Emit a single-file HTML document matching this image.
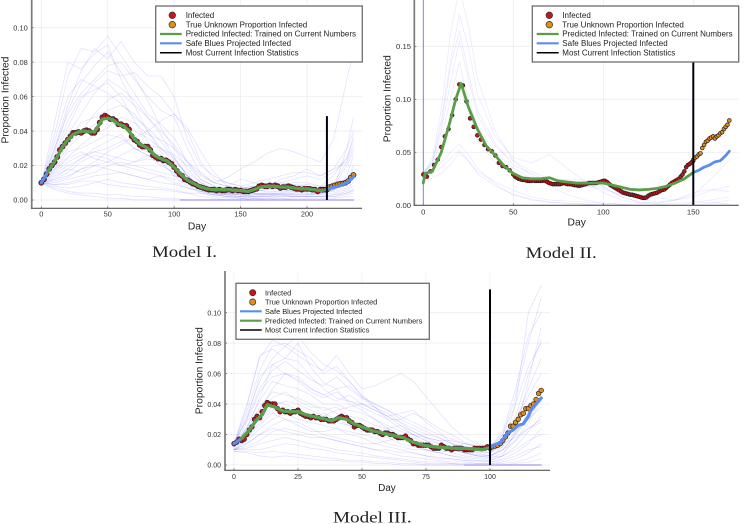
<!DOCTYPE html>
<html lang="en">
<head>
<meta charset="utf-8">
<title>Model projections of proportion infected</title>
<style>
html,body{margin:0;padding:0;background:#fff;}
#figure{display:block;width:746px;height:524px;filter:blur(.35px);}
text{font-family:"Liberation Sans",sans-serif;fill:#1c1c1c;}
.cap{font-family:"Liberation Serif",serif;font-size:16px;fill:#222;}
.tick{font-size:7.6px;fill:#333;}
.axt{font-size:10.3px;fill:#222;}
.leg{font-size:8px;fill:#222;}
.leg3{font-size:7.4px;fill:#222;}
.box{fill:#fff;stroke:#6e6e6e;stroke-width:1.3;}
</style>
</head>
<body>
<svg id="figure" width="746" height="524" viewBox="0 0 746 524" xmlns="http://www.w3.org/2000/svg">
<defs>
<clipPath id="clip1"><rect x="31" y="0" width="331" height="208.5"/></clipPath>
<clipPath id="clip2"><rect x="414" y="0" width="325" height="205.5"/></clipPath>
<clipPath id="clip3"><rect x="225" y="271" width="325" height="199.5"/></clipPath>
</defs>

<g>
<g id="plot1"></g>
<text class="axt" x="197" y="229.3" text-anchor="middle">Day</text>
<text class="axt" transform="translate(8.7,100) rotate(-90)" text-anchor="middle">Proportion Infected</text>
<g>
<rect class="box" x="155.7" y="6" width="206.6" height="56"/>
<circle cx="172.3" cy="15.3" r="3.3" fill="#c4161c" stroke="#333" stroke-width=".7"/>
<circle cx="172.3" cy="24.7" r="3.3" fill="#e08e1a" stroke="#333" stroke-width=".7"/>
<line x1="160" x2="181.7" y1="34" y2="34" stroke="#5a9e48" stroke-width="2.2"/>
<line x1="160" x2="181.7" y1="43.3" y2="43.3" stroke="#5b8def" stroke-width="2.2"/>
<line x1="160" x2="181.7" y1="52.7" y2="52.7" stroke="#000" stroke-width="1.5"/>
<text class="leg" x="185.7" y="18">Infected</text>
<text class="leg" x="185.7" y="27.4">True Unknown Proportion Infected</text>
<text class="leg" x="185.7" y="36.7">Predicted Infected: Trained on Current Numbers</text>
<text class="leg" x="185.7" y="46">Safe Blues Projected Infected</text>
<text class="leg" x="185.7" y="55.4">Most Current Infection Statistics</text>
</g>
<text class="cap" x="152" y="257" textLength="65" lengthAdjust="spacingAndGlyphs">Model I.</text>
</g>

<g>
<g id="plot2"></g>
<text class="axt" x="576.7" y="225.6" text-anchor="middle">Day</text>
<text class="axt" transform="translate(390.6,98.7) rotate(-90)" text-anchor="middle">Proportion Infected</text>
<g>
<rect class="box" x="532.3" y="6" width="206.4" height="56"/>
<circle cx="549.3" cy="15.3" r="3.3" fill="#c4161c" stroke="#333" stroke-width=".7"/>
<circle cx="549.3" cy="24.7" r="3.3" fill="#e08e1a" stroke="#333" stroke-width=".7"/>
<line x1="536.7" x2="558.7" y1="34" y2="34" stroke="#5a9e48" stroke-width="2.2"/>
<line x1="536.7" x2="558.7" y1="43.3" y2="43.3" stroke="#5b8def" stroke-width="2.2"/>
<line x1="536.7" x2="558.7" y1="52.7" y2="52.7" stroke="#000" stroke-width="1.5"/>
<text class="leg" x="562.3" y="18">Infected</text>
<text class="leg" x="562.3" y="27.4">True Unknown Proportion Infected</text>
<text class="leg" x="562.3" y="36.7">Predicted Infected: Trained on Current Numbers</text>
<text class="leg" x="562.3" y="46">Safe Blues Projected Infected</text>
<text class="leg" x="562.3" y="55.4">Most Current Infection Statistics</text>
</g>
<text class="cap" x="525.7" y="258" textLength="71" lengthAdjust="spacingAndGlyphs">Model II.</text>
</g>

<g>
<g id="plot3"></g>
<text class="axt" x="387" y="491" text-anchor="middle" style="font-size:9.8px">Day</text>
<text class="axt" transform="translate(202.7,370.7) rotate(-90)" text-anchor="middle">Proportion Infected</text>
<g>
<rect class="box" x="236" y="283.3" width="193.3" height="56"/>
<circle cx="252.7" cy="292.7" r="3.1" fill="#c4161c" stroke="#333" stroke-width=".7"/>
<circle cx="252.7" cy="302" r="3.1" fill="#e08e1a" stroke="#333" stroke-width=".7"/>
<line x1="240" x2="261.7" y1="311.3" y2="311.3" stroke="#5b8def" stroke-width="2.2"/>
<line x1="240" x2="261.7" y1="320.7" y2="320.7" stroke="#5a9e48" stroke-width="2.2"/>
<line x1="240" x2="261.7" y1="330" y2="330" stroke="#000" stroke-width="1.5"/>
<text class="leg3" x="265" y="295.3">Infected</text>
<text class="leg3" x="265" y="304.6">True Unknown Proportion Infected</text>
<text class="leg3" x="265" y="313.9">Safe Blues Projected Infected</text>
<text class="leg3" x="265" y="323.3">Predicted Infected: Trained on Current Numbers</text>
<text class="leg3" x="265" y="332.6">Most Current Infection Statistics</text>
</g>
<text class="cap" x="333" y="522.5" textLength="78.7" lengthAdjust="spacingAndGlyphs">Model III.</text>
</g>
</svg>

<script>
/* ---------- Model I data (proportions in thousandths) ---------- */
const m1XTicks = [0, 50, 100, 150, 200];
const m1YTicks = [0, 0.02, 0.04, 0.06, 0.08, 0.10];
const m1RunDays = [0,10,20,30,40,50,60,70,80,90,100,110,120,130,140,150,160,170,180,190,200,210,220,230,235];
const m1Runs = [
[10,38,72,88,86,95,84,72,58,42,30,18,10,6,4,3,3,4,4,3,3,3,6,30,40],
[10,45,80,76,85,90,70,55,40,28,18,10,6,4,3,3,2,2,2,2,2,2,3,5,6],
[10,30,55,75,88,82,92,80,72,72,60,35,20,14,10,8,6,5,5,4,4,4,8,20,28],
[10,30,50,62,70,78,80,70,60,52,48,30,15,10,13,18,22,27,30,28,25,22,35,70,86],
[10,25,42,58,68,75,72,74,66,60,50,40,22,12,10,8,10,12,14,16,16,14,18,30,48],
[10,22,38,50,62,70,65,58,48,38,25,14,8,5,4,3,2,2,1,1,1,1,1,2,2],
[10,20,32,40,50,58,62,55,48,40,32,22,14,10,8,7,8,9,10,9,8,7,10,22,38],
[10,22,35,45,48,52,55,50,40,30,22,16,10,7,6,5,5,6,7,8,9,8,14,25,35],
[10,18,25,32,38,42,48,45,38,35,30,22,16,10,8,6,6,8,12,14,18,14,18,22,30],
[10,18,28,30,34,38,36,30,28,26,20,12,6,3,2,2,1,1,1,0,0,0,0,0,0],
[10,16,22,26,28,30,34,36,32,30,26,20,12,8,6,5,4,3,3,2,2,2,3,4,5],
[10,15,20,24,28,26,24,22,24,22,18,14,8,4,2,1,1,0,0,0,0,0,0,0,0],
[10,12,16,22,26,24,20,18,16,14,10,7,5,3,2,1,1,1,0,0,0,0,0,0,0],
[10,14,18,16,20,22,26,30,26,20,16,10,6,4,4,3,3,4,4,6,6,5,8,12,18],
[10,10,12,14,16,20,22,20,18,16,14,12,8,6,4,4,5,6,7,6,5,5,6,10,14],
[10,9,10,12,14,15,16,14,12,14,12,10,8,5,3,2,2,3,3,2,2,2,2,4,6],
[10,8,7,8,10,12,10,9,8,7,6,4,2,1,0,0,0,0,0,0,0,0,0,0,0],
[10,7,5,4,4,3,3,2,2,1,1,0,0,0,0,0,0,0,0,0,0,0,0,0,0],
[10,6,4,3,2,1,1,0,0,0,0,0,0,0,0,0,0,0,0,0,0,0,0,0,0],
[10,12,14,18,22,28,32,36,40,46,50,42,28,16,8,5,4,3,2,2,2,2,2,3,4],
[10,20,30,38,44,46,42,40,36,30,24,14,7,4,3,2,2,2,3,4,6,4,6,10,16],
[10,26,46,60,64,68,60,46,34,22,14,8,4,2,1,1,0,0,0,0,0,0,0,0,0],
[10,13,18,24,30,34,38,30,26,24,20,14,8,5,4,5,6,8,10,12,14,12,16,24,32],
[10,11,13,18,20,18,16,14,12,10,9,7,5,5,6,7,8,7,6,5,4,4,5,7,10],
[10,9,9,11,11,9,8,7,6,6,5,4,4,3,3,4,6,7,9,10,10,8,9,12,20],
[10,17,24,28,24,22,20,22,26,22,15,9,5,3,2,2,3,3,4,3,3,4,6,14,26],
[10,34,60,70,66,62,56,48,42,34,24,14,8,5,8,12,10,8,6,5,5,4,6,10,12],
[10,28,52,68,78,86,74,62,50,44,36,22,12,8,6,5,4,4,3,3,3,3,4,6,8]
];
const m1FloorDays = [105, 235];
const m1FloorValues = [0, 0];
const m1InfectedDays = [0,2,4,6,8,10,12,14,16,18,20,22,24,26,28,30,32,34,36,38,40,42,44,46,48,50,52,54,56,58,60,62,64,66,68,70,72,74,76,78,80,82,84,86,88,90,92,94,96,98,100,102,104,106,108,110,112,114,116,118,120,122,124,126,128,130,132,134,136,138,140,142,144,146,148,150,152,154,156,158,160,162,164,166,168,170,172,174,176,178,180,182,184,186,188,190,192,194,196,198,200,202,204,206,208,210,212,214];
const m1Infected = [10,12,15,18,20,22,25,29,31,33,35,37,39,39,39.5,39,40,40.5,40,39,39,41,45,48,49,48,47,47,46,44,44,43,43,41,37,35,34,32,31,31,31,29,26,25,24,24,23,23,22,21,19,17,15,14,12,11.5,10.5,9.5,9,8,7.5,7,6.5,6,6,6,5.5,6,5.5,5.5,6,6,5.5,6,5.5,5.5,5,5,5,5.5,6,6.5,8,8.5,8,8,8.5,8,8.5,8,7,7.5,7.5,8,7.5,7,6.5,6.5,6,6.5,6.5,6.5,6,6,5,6,6,6];
const m1TrueDays = [215,217,219,221,223,225,227,229,231,233,235];
const m1True = [6,7.5,8,8.5,9,9.5,9.5,10,11,13,14.5];
const m1PredDays = [5,8,12,16,20,24,28,32,36,40,43,46,50,54,58,62,66,70,74,78,82,85,90,95,100,105,110,115,120,125,130,140,150,156,160,165,170,175,180,185,190,195,200,205,210,215];
const m1Pred = [16.5,20,25,31,35,38,39.5,40,39.5,39.5,43,47,47.5,46.5,44,43,40,35.5,32.5,31,29,26,24,22.5,19,15,11.5,9.5,7.5,6.5,6,6,5.5,5,6,7.5,8,8,7.5,7.5,7,6.5,6.5,6,5.5,6];
const m1BlueDays = [0,5,8,12,16,20,24,28,32,36,40,43,46,50,54,58,62,66,70,74,78,82,85,90,95,100,105,110,115,120,125,130,140,150,156,160,165,170,175,180,185,190,195,200,205,210,215,218,221,224,227,230,233,235];
const m1Blue = [10,16.5,20,25,31,35,38,39.5,40,39.5,39.5,43,47,47.5,46.5,44,43,40,35.5,32.5,31,29,26,24,22.5,19,15,11.5,9.5,7.5,6.5,6,6,5.5,5,6,7.5,8,8,7.5,7.5,7,6.5,6.5,6,5.5,6,7,7.5,8,9,10,12,13.5];
const m1CurrentDay = [215];
const m1CurrentTop = [0.0487];

/* ---------- Model II data ---------- */
const m2XTicks = [0, 50, 100, 150];
const m2YTicks = [0, 0.05, 0.10, 0.15];
const m2RunDays = [0,5,10,15,20,25,30,40,50,60,70,80,90,100,110,120,130,140,150,160,170];
const m2Runs = [
[30,45,90,160,205,170,120,70,42,28,18,10,5,2,1,0,0,0,0,0,0],
[30,42,80,135,180,150,105,65,45,40,48,35,22,12,5,2,1,0,0,2,5],
[30,40,75,130,165,125,90,58,38,30,22,20,22,18,8,3,2,2,3,5,8],
[30,40,70,115,155,120,85,55,42,32,25,24,24,20,15,10,7,5,8,14,18],
[30,38,62,100,135,100,75,50,35,26,25,20,18,17,8,3,2,5,10,25,43],
[30,32,40,50,58,48,35,20,10,6,3,2,1,0,0,0,0,0,0,0,0],
[25,30,36,44,52,42,30,18,10,5,3,2,1,1,0,0,0,0,0,0,0],
[30,34,50,75,110,90,62,40,30,24,20,20,18,15,10,6,3,5,12,15,13],
[22,26,30,38,50,42,32,22,14,8,5,4,3,2,1,0,0,0,2,3,1]
];
const m2AxisSpikeDays = [0, 0];
const m2AxisSpikeValues = [0, 194];
const m2InfectedDays = [0,2,4,6,8,10,12,14,16,18,20,22,24,26,28,30,32,34,36,38,40,42,44,46,48,50,51,52,53,54,55,56,57,58,59,60,61,62,63,64,65,66,67,68,69,70,71,72,73,74,75,76,77,78,79,80,81,82,83,84,85,86,87,88,89,90,91,92,93,94,95,96,97,98,99,100,101,102,103,104,105,106,107,108,109,110,111,112,113,114,115,116,117,118,119,120,121,122,123,124,125,126,127,128,129,130,131,132,133,134,135,136,137,138,139,140,141,142,143,144,145,146,147,148,149,150];
const m2Infected = [29,27,32,38,43,55,65,72,85,100,114,113,98,82,74,66,62,57,53,51,47,40,37,36,33,29,27,26,25,24.5,24,24,23.5,23,23,23,23.5,23,23,23,23,23,23.5,23,22,21,20.5,20,20,20,20,20,20.5,21,20.5,20,20,20,19.5,19,19,18.5,18.5,19,19.5,20,20.5,21,21,21,21,21,21.5,22,22.5,23,23,22,20.5,19,18,17,16,15,14,13,12,11.5,11,10.5,10,10,9.5,9,8.5,8,7.5,7,7,7.5,9,10,10.5,11,11.5,12,13,14,14.5,15,16.5,18,19.5,21,22,23,24,25,27,29,32,36,38,39,40.5,42];
const m2TrueDays = [150,151,152,153,154,155,156,157,158,159,160,161,162,163,164,165,166,167,168,169,170];
const m2True = [43,45,46,48,49,54,57,60,61,63,64,65,63,65,66,68,69,72,74,76,80];
const m2PredDays = [0,1,5,10,15,18,21,25,30,35,40,45,50,55,60,65,70,75,80,85,90,95,100,105,110,115,120,125,130,135,140,145,150];
const m2Pred = [21,30,32,50,80,100,115,93,72,56,47,37,30,26,25,25,26,23,22,21,21,21,21,19,17,15,14.5,15,16,18,21,25,31];
const m2BlueDays = [150,153,156,159,162,165,168,170];
const m2Blue = [31,33,36,38,41,42,47,51];
const m2CurrentDay = [150];
const m2CurrentTop = [0.15];

/* ---------- Model III data ---------- */
const m3XTicks = [0, 25, 50, 75, 100];
const m3YTicks = [0, 0.02, 0.04, 0.06, 0.08, 0.10];
const m3RunDays = [0,5,10,15,20,25,30,35,40,45,50,55,60,65,70,75,80,85,90,95,100,105,110,115,120];
const m3Runs = [
[14,40,70,82,78,85,74,66,62,55,46,38,32,26,20,16,12,10,8,6,5,12,40,100,118],
[14,35,62,78,80,75,70,60,65,55,45,40,36,30,26,22,18,14,12,10,10,20,45,80,110],
[14,32,55,70,78,72,66,62,72,60,50,52,56,60,55,45,35,25,18,14,12,22,50,85,100],
[14,30,50,62,68,62,56,52,58,50,44,40,36,32,28,24,20,17,14,12,12,20,40,65,80],
[12,28,48,58,60,55,48,44,48,42,38,34,30,30,34,30,24,20,15,12,10,16,30,45,60],
[12,25,42,55,52,50,46,40,40,36,34,30,26,22,20,18,16,12,10,8,8,14,25,40,48],
[12,22,38,48,46,44,40,36,38,32,30,26,24,20,18,14,12,10,8,6,6,10,20,35,50],
[12,20,35,44,48,42,38,38,34,30,26,24,20,18,16,14,10,8,6,5,4,8,16,28,42],
[10,20,30,38,42,40,36,32,36,38,40,36,32,28,24,20,18,14,12,10,8,12,22,30,38],
[10,18,28,36,38,34,30,34,30,26,24,20,18,14,12,10,8,6,5,4,3,6,12,22,32],
[10,16,24,30,34,30,28,26,24,20,18,14,12,10,8,6,5,4,3,2,2,4,8,14,24],
[10,14,20,26,30,28,24,20,18,16,14,14,16,18,16,14,12,10,8,7,6,10,16,24,30],
[10,12,16,22,24,22,20,18,16,14,12,10,8,6,5,4,3,2,2,1,1,2,4,8,14],
[10,11,14,16,18,16,14,12,10,9,8,6,5,4,3,2,2,1,1,1,1,1,2,4,8],
[10,10,10,12,14,13,11,10,8,7,6,5,4,3,2,1,1,1,0,0,0,0,1,2,4],
[9,9,8,9,8,7,6,5,4,3,3,2,2,1,1,0,0,0,0,0,0,0,0,0,0],
[9,8,6,5,6,5,4,3,3,2,2,1,1,0,0,0,0,0,0,0,0,0,0,0,0],
[12,24,44,66,70,68,58,50,44,42,40,38,30,24,20,16,14,12,10,9,8,14,28,50,70],
[14,30,58,66,60,56,50,46,42,46,40,36,32,34,36,28,22,14,10,8,6,10,20,30,44],
[12,20,32,42,40,36,32,30,28,26,22,22,24,26,22,18,14,12,14,12,10,14,18,24,28],
[12,18,26,34,30,26,22,22,24,22,20,18,14,12,10,10,8,10,8,6,5,6,10,16,20],
[10,14,20,24,22,20,18,18,16,14,12,10,10,8,8,6,4,4,3,3,2,3,6,10,12],
[14,38,72,76,70,80,64,54,50,40,36,30,24,18,14,10,8,6,4,3,3,6,22,55,90],
[12,24,36,50,60,58,50,46,50,52,44,38,34,28,22,18,16,16,14,12,11,18,32,60,82]
];
const m3FloorDays = [90, 120];
const m3FloorValues = [0, 0];
const m3InfectedDays = [0,1,2,3,4,5,6,7,8,9,10,11,12,13,14,15,16,17,18,19,20,21,22,23,24,25,26,27,28,29,30,31,32,33,34,35,36,37,38,39,40,41,42,43,44,45,46,47,48,49,50,51,52,53,54,55,56,57,58,59,60,61,62,63,64,65,66,67,68,69,70,71,72,73,74,75,76,77,78,79,80,81,82,83,84,85,86,87,88,89,90,91,92,93,94,95,96,97,98,99,100];
const m3Infected = [14,15,17,16,17,20,23,25,30,32,31,35,39,41,40,40,40,37,35,36,35,35,34,35,35,36,34,33,32,32,31,32,31,31,30,30,30,29,29,29,30,31,32,31,31,29,28,25,26,26,25,24,23,23,23,22,22,21,20,21,21,20,20,19,18,18,18,19,17,16,14,14,13,13,13,13,13,12,11,11,11,13,12,11,11,10,11,11,11,11,10,10,10,10,11,11,11,11,11,12,11];
const m3TrueDays = [100,101,102,103,104,105,106,107,108,109,110,111,112,113,114,115,116,117,118,119,120];
const m3True = [11.5,12,12.5,13,14,16,18.5,21,25.5,25.5,28,30,33,34,37,37,39,40,43,47,49];
const m3PredDays = [3,6,9,11,13,16,19,22,25,28,32,36,38,41,44,47,50,54,58,62,66,70,74,78,82,86,90,94,97,100];
const m3Pred = [17.5,23,30,33,39.5,38,35.5,35,35,33,31.5,30,29,31,30,27,25,22.5,21,19.5,18,15,13,12,11.5,11,11,10.5,10,11.5];
const m3BlueDays = [0,3,6,9,11,13,16,19,22,25,28,32,36,38,41,44,47,50,54,58,62,66,70,74,78,82,86,90,94,97,100,102,104,106,107,109,111,113,115,116,118,120];
const m3Blue = [14,17.5,23,30,33,39.5,38,35.5,35,35,33,31.5,30,29,31,30,27,25,22.5,21,19.5,18,15,13,12,11.5,11,11,10.5,10,11.5,13.5,14.5,19,21,23,26,27,32,36,40,44];
const m3CurrentDay = [100];
const m3CurrentTop = [0.1153];

/* ---------- rendering ---------- */
const SVG_NS = 'http://www.w3.org/2000/svg';
function mk(parent, tag, attrs) {
  const n = document.createElementNS(SVG_NS, tag);
  for (const k in attrs) n.setAttribute(k, attrs[k]);
  parent.appendChild(n);
  return n;
}
function linear(d0, p0, d1, p1) {
  return function (v) { return p0 + (v - d0) * (p1 - p0) / (d1 - d0); };
}
function pathOf(days, vals, xs, ys) {
  return days.map(function (d, i) {
    return (i ? 'L' : 'M') + xs(d).toFixed(2) + ' ' + ys(vals[i] / 1000).toFixed(2);
  }).join('');
}
function drawLine(parent, days, vals, xs, ys, stroke, width, opacity) {
  return mk(parent, 'path', {
    d: pathOf(days, vals, xs, ys), fill: 'none', stroke: stroke,
    'stroke-width': width, 'stroke-opacity': opacity,
    'stroke-linejoin': 'round', 'stroke-linecap': 'round'
  });
}
function drawFrame(g, c) {
  c.yTicks.forEach(function (t) {
    const gl = mk(g, 'line', {x1: c.left, x2: c.right, y1: c.y(t), y2: c.y(t), stroke: '#000', 'stroke-opacity': .07, 'stroke-width': .8});
    
    
    const tm = mk(g, 'line', {x1: c.left, x2: c.left + 2, y1: c.y(t), y2: c.y(t), stroke: '#555', 'stroke-width': .7});
    
    
    const lb = mk(g, 'text', {x: c.yLabelX, y: c.y(t) + 2.7, 'text-anchor': 'end', class: 'tick', style: 'font-size:' + c.tickSize + 'px'});
    lb.textContent = t.toFixed(2);
    
    
  });
  c.xTicks.forEach(function (t) {
    const gl = mk(g, 'line', {x1: c.x(t), x2: c.x(t), y1: c.top, y2: c.bottom, stroke: '#000', 'stroke-opacity': .07, 'stroke-width': .8});
    
    
    const tm = mk(g, 'line', {x1: c.x(t), x2: c.x(t), y1: c.bottom, y2: c.bottom - 2, stroke: '#555', 'stroke-width': .7});
    
    
    const lb = mk(g, 'text', {x: c.x(t), y: c.xLabelY, 'text-anchor': 'middle', class: 'tick', style: 'font-size:' + c.tickSize + 'px'});
    lb.textContent = String(t);
    
    
  });
}
function drawSpines(g, c) {
  const sl = mk(g, 'line', {x1: c.left, x2: c.left, y1: c.top, y2: c.bottom, stroke: '#7a7a7a', 'stroke-width': 1.7});
  
  
  const sb = mk(g, 'line', {x1: c.left - .8, x2: c.right, y1: c.bottom, y2: c.bottom, stroke: '#555', 'stroke-width': 1.2});
  
  
}
function drawDots(parent, days, vals, xs, ys, fill, r) {
  days.forEach(function (d, i) {
    const p = mk(parent, 'circle', {cx: xs(d), cy: ys(vals[i] / 1000), r: r, fill: fill, stroke: '#221a1e', 'stroke-width': .7});
    
    
  });
}
function drawPanel(c, d) {
  const root = document.getElementById(c.id);
  drawFrame(root, c);
  const clipped = mk(root, 'g', {'clip-path': 'url(#' + c.clip + ')'});
  
  
  d.runs.forEach(function (run) {
    const l = drawLine(clipped, d.runDays, run, c.x, c.y, '#4a40ff', .7, c.runAlpha);
    
    
  });
  if (d.floorDays) {
    const f = drawLine(clipped, d.floorDays, d.floorValues, c.x, c.y, '#a49bf2', 1.3, 1);
    
    
  }
  if (d.spikeDays) {
    const s = drawLine(clipped, d.spikeDays, d.spikeValues, c.x, c.y, '#7472ee', .9, 1);
    
    
  }
  drawDots(clipped, d.infectedDays, d.infected, c.x, c.y, '#c4161c', c.dotR);
  drawDots(clipped, d.trueDays, d.trueVals, c.x, c.y, '#e08e1a', c.dotR);
  const blue = drawLine(clipped, d.blueDays, d.blue, c.x, c.y, c.blueColor, c.lineW, 1);
  
  
  const green = drawLine(clipped, d.predDays, d.pred, c.x, c.y, '#5a9e48', c.lineW, 1);
  
  
  const vl = mk(clipped, 'line', {x1: c.x(d.currentDay[0]), x2: c.x(d.currentDay[0]), y1: c.y(0), y2: c.y(d.currentTop[0]), stroke: '#000010', 'stroke-width': 2});
  
  
  drawSpines(root, c);
}

drawPanel({
  id: 'plot1', clip: 'clip1',
  x: linear(0, 41.3, 200, 307), y: linear(0, 200, 0.1, 27.7),
  left: 31.7, right: 362, top: 0, bottom: 208.3,
  xTicks: m1XTicks, yTicks: m1YTicks, yLabelX: 27.7, xLabelY: 216.7, tickSize: 7.4,
  runAlpha: .17, dotR: 2.5, lineW: 3.2, blueColor: '#5b8def'
}, {
  runDays: m1RunDays, runs: m1Runs, floorDays: m1FloorDays, floorValues: m1FloorValues,
  infectedDays: m1InfectedDays, infected: m1Infected, trueDays: m1TrueDays, trueVals: m1True,
  predDays: m1PredDays, pred: m1Pred, blueDays: m1BlueDays, blue: m1Blue,
  currentDay: m1CurrentDay, currentTop: m1CurrentTop
});

drawPanel({
  id: 'plot2', clip: 'clip2',
  x: linear(0, 423.3, 150, 693.3), y: linear(0, 205.3, 0.15, 46.3),
  left: 414.3, right: 738.7, top: 0, bottom: 205.3,
  xTicks: m2XTicks, yTicks: m2YTicks, yLabelX: 411, xLabelY: 214.4, tickSize: 7.7,
  runAlpha: .12, dotR: 1.9, lineW: 2.8, blueColor: '#5b8def'
}, {
  runDays: m2RunDays, runs: m2Runs, spikeDays: m2AxisSpikeDays, spikeValues: m2AxisSpikeValues,
  infectedDays: m2InfectedDays, infected: m2Infected, trueDays: m2TrueDays, trueVals: m2True,
  predDays: m2PredDays, pred: m2Pred, blueDays: m2BlueDays, blue: m2Blue,
  currentDay: m2CurrentDay, currentTop: m2CurrentTop
});

drawPanel({
  id: 'plot3', clip: 'clip3',
  x: linear(0, 234, 100, 490), y: linear(0, 465, 0.1, 312.7),
  left: 225, right: 550, top: 271, bottom: 470.3,
  xTicks: m3XTicks, yTicks: m3YTicks, yLabelX: 221, xLabelY: 479, tickSize: 7,
  runAlpha: .17, dotR: 2.3, lineW: 3.2, blueColor: '#5b8def'
}, {
  runDays: m3RunDays, runs: m3Runs, floorDays: m3FloorDays, floorValues: m3FloorValues,
  infectedDays: m3InfectedDays, infected: m3Infected, trueDays: m3TrueDays, trueVals: m3True,
  predDays: m3PredDays, pred: m3Pred, blueDays: m3BlueDays, blue: m3Blue,
  currentDay: m3CurrentDay, currentTop: m3CurrentTop
});
</script>
</body>
</html>
